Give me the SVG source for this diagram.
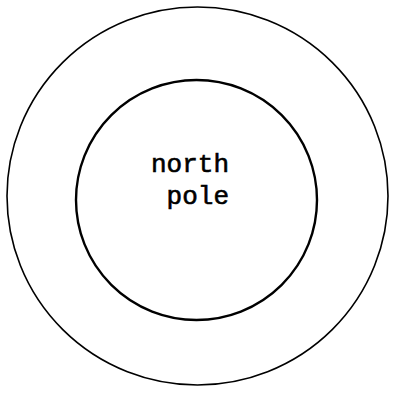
<svg xmlns="http://www.w3.org/2000/svg" width="393" height="393" viewBox="0 0 393 393">
<style>
.ring{fill:none;stroke:#000}
.lbl{font-family:"Liberation Mono","Courier New",monospace;font-size:26px;fill:#000;stroke:#000;stroke-width:0.6}
</style>
<rect width="393" height="393" fill="#fff"/>
<g id="outer"><ellipse class="ring" cx="197.5" cy="196" rx="190.5" ry="189" stroke-width="1.6"/></g>
<g id="inner"><ellipse class="ring" cx="196.5" cy="200" rx="120.5" ry="120" stroke-width="2.4"/></g>
<g id="label">
<text class="lbl" x="151" y="172">north</text>
<text class="lbl" x="166.6" y="204">pole</text>
</g>
</svg>
